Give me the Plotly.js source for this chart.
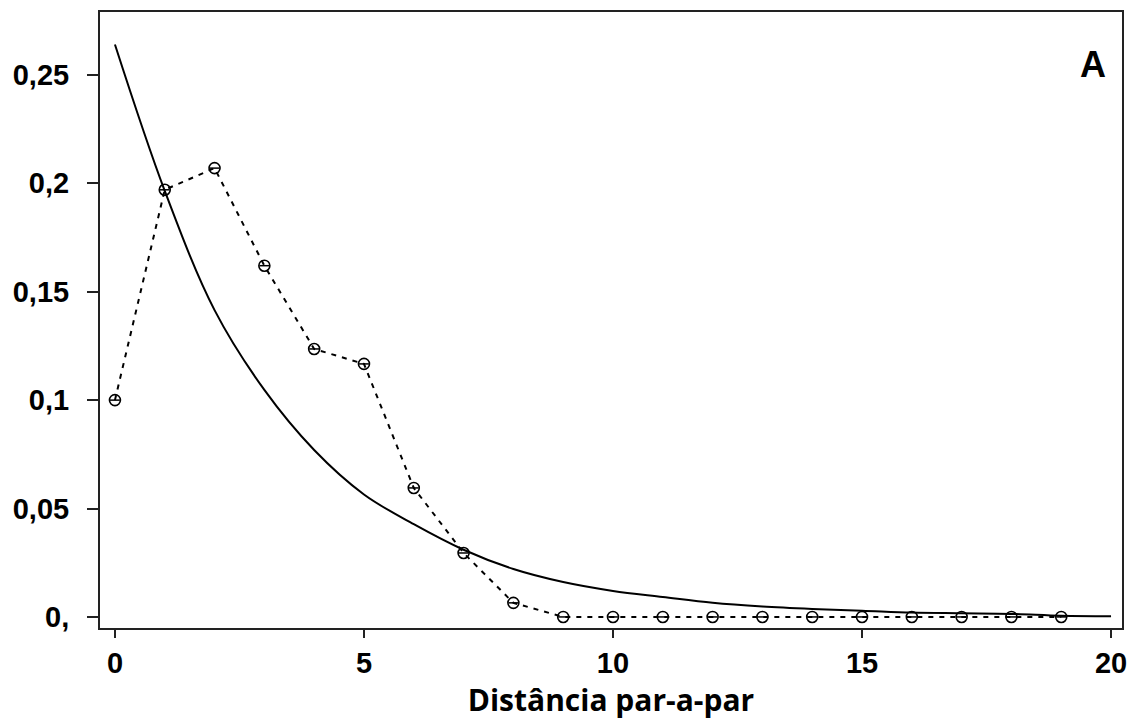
<!DOCTYPE html>
<html>
<head>
<meta charset="utf-8">
<script src="https://cdn.plot.ly/plotly-3.0.1.min.js"></script>
<style>html,body{margin:0;padding:0;background:#fff;}#chart{width:1133px;height:722px;}</style>
</head>
<body>
<div id="chart"></div>
<script>
// Distância par-a-par (x)
const xExpected = [0,1,2,3,4,5,6,7,8,9,10,11,12,13,14,15,16,17,18,19,20];
const yExpected = [0.264,0.1965,0.1415,0.1047,0.077,0.0565,0.0428,0.031,0.0221,0.0161,0.012,0.0092,0.0065,0.0048,0.0037,0.0029,0.0020,0.0017,0.0014,0.0005,0.0003];
const xObserved = [0,1,2,3,4,5,6,7,8,9,10,11,12,13,14,15,16,17,18,19];
const yObserved = [0.100,0.197,0.207,0.162,0.1236,0.1167,0.0595,0.0295,0.0065,0,0,0,0,0,0,0,0,0,0,0];
const yTickVals = [0,0.05,0.1,0.15,0.2,0.25];
const yTickText = ['0,','0,05','0,1','0,15','0,2','0,25'];
const xTickVals = [0,5,10,15,20];
const xTitle = 'Distância par-a-par';
const panelLabel = 'A';

const traces = [
  {x:xExpected, y:yExpected, mode:'lines', type:'scatter', line:{color:'#000', width:2, shape:'spline', smoothing:1}, hoverinfo:'skip'},
  {x:xObserved, y:yObserved, mode:'lines+markers', type:'scatter', line:{color:'#000', width:2, dash:'5px,6px'},
   marker:{symbol:'circle-open', size:11, color:'#000', line:{width:1.6, color:'#000'}}},
  {x:xObserved, y:yObserved, mode:'markers', type:'scatter',
   marker:{symbol:'line-ew-open', size:7, color:'#000', line:{width:1.5, color:'#000'}}}
];

const layout = {
  width:1133, height:722,
  margin:{l:100, r:11, t:12, b:94},
  paper_bgcolor:'#fff', plot_bgcolor:'#fff',
  showlegend:false,
  xaxis:{
    range:[-0.3,20.22], tickvals:xTickVals, ticks:'outside', ticklen:8, tickwidth:2, tickcolor:'#222',
    showline:true, linecolor:'#222', linewidth:2, mirror:true, showgrid:false, zeroline:false,
    tickfont:{family:'Liberation Sans, Arial, sans-serif', size:29, color:'#000', weight:'bold'},
    title:{text:xTitle, font:{family:'Open Sans, sans-serif', size:30, color:'#000', weight:'bold'}, standoff:10}
  },
  yaxis:{
    range:[-0.0051,0.279], tickvals:yTickVals, ticktext:yTickText, ticks:'outside', ticklen:11, tickwidth:2, tickcolor:'#222',
    showline:true, linecolor:'#222', linewidth:2, mirror:true, showgrid:false, zeroline:false,
    ticklabelstandoff:12,
    tickfont:{family:'Liberation Sans, Arial, sans-serif', size:29, color:'#000', weight:'bold'}
  },
  annotations:[{text:panelLabel, xref:'paper', yref:'paper', x:0.972, y:0.915, xanchor:'center', yanchor:'middle', showarrow:false,
    font:{family:'Liberation Sans, Arial, sans-serif', size:36, color:'#000', weight:'bold'}}]
};

Plotly.newPlot('chart', traces, layout, {displayModeBar:false, staticPlot:true});
</script>
</body>
</html>
